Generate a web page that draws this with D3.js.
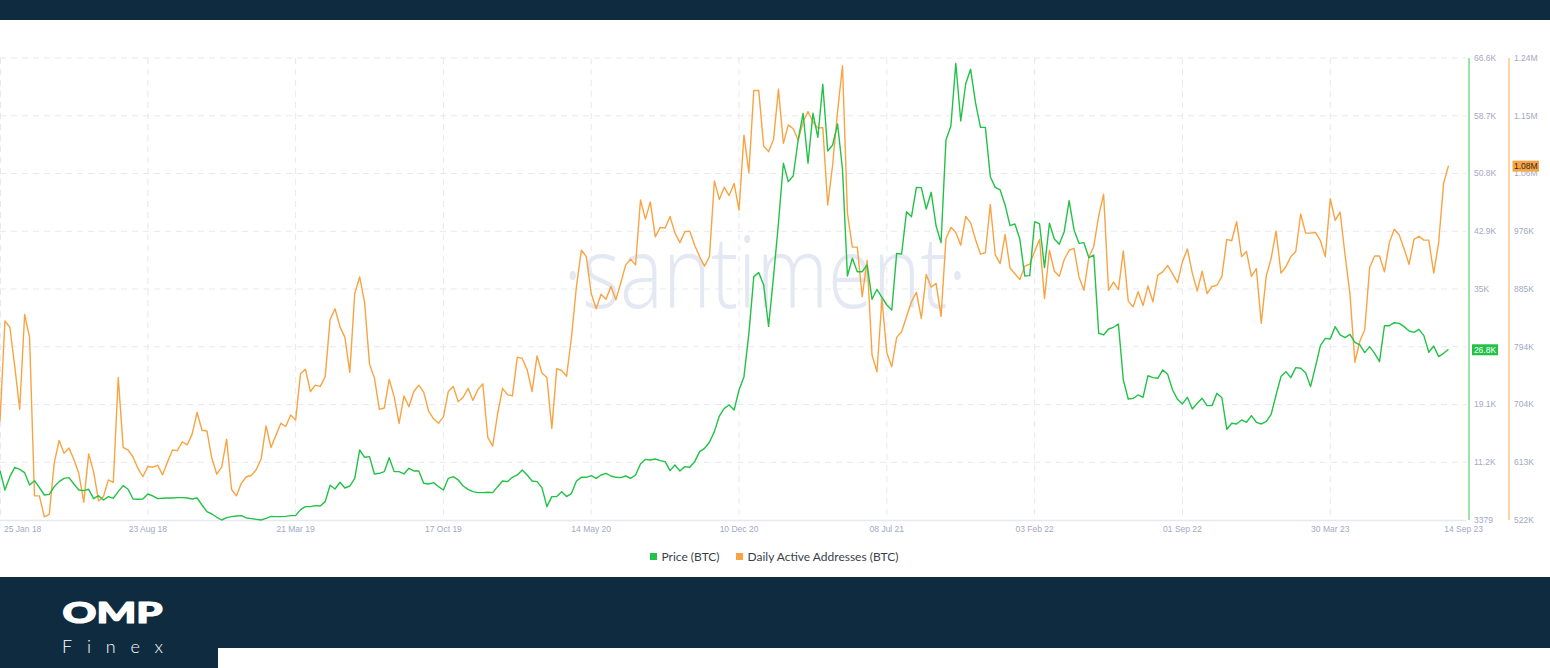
<!DOCTYPE html>
<html><head><meta charset="utf-8">
<script src="https://cdn.jsdelivr.net/npm/d3@7"></script>
<style>
html,body{margin:0;padding:0;background:#fff;overflow:hidden;}
svg{display:block;}
</style></head>
<body>
<svg id="c" width="1550" height="668"></svg>
<script>
// ---------- data ----------
const startDate = "2018-01-25";          // first weekly sample
const lastDate = "2023-09-14";           // last weekly sample
// BTC price, thousands USD (weekly)
const priceK = [
10.13,7.49,9.31,10.59,10.31,9.86,8.17,8.76,7.81,6.80,
6.89,7.94,8.63,9.08,9.17,8.31,7.49,7.40,7.58,6.30,
6.71,6.12,6.58,6.35,7.26,8.08,7.58,6.26,6.21,6.26,
6.94,6.67,6.30,6.35,6.39,6.39,6.44,6.44,6.39,6.26,
6.39,5.43,4.52,4.20,3.75,3.38,3.70,3.84,3.93,3.98,
3.66,3.57,3.47,3.38,3.61,3.88,3.84,3.84,3.88,3.98,
3.98,4.80,5.21,5.21,5.34,5.30,5.89,8.13,7.62,8.54,
7.76,8.03,9.08,12.96,11.96,12.05,9.68,9.77,10.00,11.91,
10.00,10.00,9.68,10.45,10.09,10.09,8.40,8.31,8.49,7.94,
7.49,9.08,9.31,8.86,8.03,7.58,7.26,7.12,7.12,7.17,
7.12,7.94,8.72,8.63,9.22,9.54,10.22,9.54,8.72,8.63,
7.81,5.21,6.58,6.58,7.26,6.58,7.03,8.72,9.22,9.22,
9.45,9.08,9.54,9.77,9.40,9.22,9.18,9.40,9.08,9.54,
11.04,11.68,11.59,11.73,11.50,11.36,10.13,10.91,10.09,10.68,
10.59,11.36,12.73,13.19,14.01,15.47,17.61,18.66,19.12,18.43,
21.17,22.99,28.92,36.68,37.23,35.54,29.88,36.68,43.98,52.19,
49.68,50.45,55.38,59.03,52.19,59.03,55.74,63.00,53.87,54.70,
57.57,51.37,36.77,39.19,37.36,37.36,38.28,33.58,34.95,33.85,
32.80,32.12,39.87,39.78,45.57,44.89,48.90,48.86,45.94,48.22,
43.61,41.33,55.38,57.30,65.87,57.98,63.04,65.05,60.49,57.11,
57.11,50.36,48.90,48.54,46.49,43.66,43.89,41.79,36.77,36.82,
44.21,43.89,37.91,43.98,41.83,41.10,42.84,47.08,43.07,41.24,
41.33,39.28,39.64,28.93,28.70,29.52,29.75,30.20,22.54,19.94,
20.03,20.49,20.17,23.13,22.86,22.77,23.91,23.31,21.17,19.89,
19.26,20.17,18.57,19.35,20.03,19.03,19.03,20.72,20.12,15.79,
16.61,16.52,17.07,16.75,17.66,16.75,16.52,16.84,17.84,20.49,
23.00,23.68,22.86,24.23,24.14,23.54,21.63,24.36,27.24,28.24,
28.15,29.84,28.70,28.33,28.79,27.69,27.33,26.28,27.10,26.19,
25.05,29.97,29.97,30.38,30.29,29.84,29.24,29.06,29.47,28.61,
26.33,27.19,25.73,26.19,26.74
];
// Daily active addresses, thousands (weekly)
const daaK = [
677,835,825,763,696,845,809,560,560,527,
531,611,647,627,635,617,595,550,626,598,
552,559,585,581,746,636,632,621,603,590,
606,605,608,593,613,632,631,645,640,657,
691,663,662,619,594,605,649,570,560,580,
590,592,601,618,670,636,655,674,669,687,
679,752,759,724,734,732,747,837,854,826,
809,754,878,904,864,767,745,696,698,743,
716,674,717,700,724,734,723,693,681,674,
684,724,732,708,715,729,710,727,736,652,
638,689,729,719,717,778,776,758,724,780,
753,746,666,760,757,748,810,889,946,936,
878,854,877,869,889,868,895,923,932,923,
1025,995,1022,967,982,981,999,973,958,975,
976,954,936,921,936,1055,1026,1045,1032,1051,
1009,1127,1068,1197,1197,1110,1101,1120,1199,1114,
1143,1137,1119,1148,1164,1148,1138,1139,1017,1080,
1164,1236,1004,951,951,873,930,781,755,869,
785,763,809,818,842,865,880,839,908,888,
894,842,964,982,974,954,999,989,963,940,
942,1018,939,925,971,918,909,900,921,924,
944,963,870,946,913,905,931,946,949,904,
883,935,952,1000,1034,883,896,884,945,866,
857,881,859,890,865,907,912,922,909,895,
928,948,910,882,913,878,889,891,905,963,
961,991,936,944,905,917,831,905,933,976,
910,920,936,944,1003,973,973,974,961,936,
1027,993,1006,939,877,770,803,821,919,937,
937,912,958,979,970,948,924,963,968,962,
962,910,958,1051,1079
];
const xTickDates = ["2018-01-25","2018-08-23","2019-03-21","2019-10-17","2020-05-14","2020-12-10","2021-07-08","2022-02-03","2022-09-01","2023-03-30","2023-09-14"];
const xTickLabels = ["25 Jan 18","23 Aug 18","21 Mar 19","17 Oct 19","14 May 20","10 Dec 20","08 Jul 21","03 Feb 22","01 Sep 22","30 Mar 23","14 Sep 23"];
const priceTickLabels = ["3379","11.2K","19.1K","27K","35K","42.9K","50.8K","58.7K","66.6K"];
const daaTickLabels = ["522K","613K","704K","794K","885K","976K","1.06M","1.15M","1.24M"];
const priceDomainK = [3.379, 66.6];
const daaDomainK = [522, 1248.2];
const seriesNames = ["Price (BTC)", "Daily Active Addresses (BTC)"];
const lastLabels = ["26.8K", "1.08M"];

// ---------- drawing ----------
const W = 1550, H = 668;
const GREEN = "#22c247", ORANGE = "#f9a443", NAVY = "#0f2b40";
const svg = d3.select("#c");
const parse = d3.timeParse("%Y-%m-%d");
const t0 = parse(startDate), t1 = parse(lastDate);
const dates = priceK.map((_, i) => d3.timeDay.offset(t0, 7 * i));

const plotL = 0, plotR = 1466, plotT = 58, plotB = 520;
const x = d3.scaleTime().domain([t0, t1]).range([0, 1448.5]);
const yP = d3.scaleLinear().domain(priceDomainK).range([plotB, plotT]);
const yD = d3.scaleLinear().domain(daaDomainK).range([plotB, plotT]);

svg.append("rect").attr("width", W).attr("height", H).attr("fill", "#fff");

// top bar
svg.append("rect").attr("x", 0).attr("y", 0).attr("width", W).attr("height", 20).attr("fill", NAVY);

const grid = svg.append("g");
const pTicks = priceTickLabels.map((_, i) => priceDomainK[0] + i * (priceDomainK[1] - priceDomainK[0]) / (priceTickLabels.length - 1));
const dTicks = daaTickLabels.map((_, i) => daaDomainK[0] + i * (daaDomainK[1] - daaDomainK[0]) / (daaTickLabels.length - 1));
const GRID = "#e6e8f3";

// horizontal gridlines
grid.selectAll("line.h").data(pTicks.slice(1)).join("line")
  .attr("x1", plotL).attr("x2", plotR)
  .attr("y1", d => yP(d)).attr("y2", d => yP(d))
  .attr("stroke", GRID).attr("stroke-width", 1).attr("stroke-dasharray", "6,5");
// vertical gridlines
const xt = xTickDates.map(parse);
grid.selectAll("line.v").data(xt.slice(0, -1)).join("line")
  .attr("x1", d => Math.max(0.5, x(d))).attr("x2", d => Math.max(0.5, x(d)))
  .attr("y1", plotT).attr("y2", plotB)
  .attr("stroke", GRID).attr("stroke-width", 1).attr("stroke-dasharray", "6,5");
// x baseline
svg.append("line").attr("x1", 0).attr("x2", plotR).attr("y1", plotB + 0.5).attr("y2", plotB + 0.5)
  .attr("stroke", "#e6e8f2").attr("stroke-width", 1.5);

// watermark
svg.append("text").attr("x", 563).attr("y", 308)
  .attr("textLength", 404).attr("lengthAdjust", "spacingAndGlyphs")
  .attr("font-family", "'Open Sans', sans-serif").attr("font-weight", 300)
  .attr("font-size", 100).attr("fill", "#e4e8f2").text("·santiment·");

// lines
const lineP = d3.line().x((d, i) => x(dates[i])).y(d => yP(d));
const lineD = d3.line().x((d, i) => x(dates[i])).y(d => yD(d));
svg.append("path").datum(daaK).attr("d", lineD).attr("fill", "none")
  .attr("stroke", ORANGE).attr("stroke-width", 1.4).attr("stroke-linejoin", "round");
svg.append("path").datum(priceK).attr("d", lineP).attr("fill", "none")
  .attr("stroke", GREEN).attr("stroke-width", 1.4).attr("stroke-linejoin", "round");

// right axes lines
svg.append("line").attr("x1", 1469).attr("x2", 1469).attr("y1", plotT).attr("y2", plotB)
  .attr("stroke", GREEN).attr("stroke-opacity", 0.75).attr("stroke-width", 1.2);
svg.append("line").attr("x1", 1509).attr("x2", 1509).attr("y1", plotT).attr("y2", plotB)
  .attr("stroke", ORANGE).attr("stroke-opacity", 0.75).attr("stroke-width", 1.2);

const lastP = priceK[priceK.length - 1], lastD = daaK[daaK.length - 1];
const tickFont = "'Liberation Sans', Arial, sans-serif";
const tickColor = "#a2a9c2";
// price tick labels (the one hidden under the last-value badge is not drawn)
svg.append("g").selectAll("text").data(pTicks.filter(d => Math.abs(yP(d) - yP(lastP)) > 6)).join("text")
  .attr("x", 1474).attr("y", d => yP(d)).attr("dy", "0.35em")
  .attr("font-family", tickFont).attr("font-size", 8.5).attr("fill", tickColor)
  .text(d => priceTickLabels[pTicks.indexOf(d)]);
svg.append("g").selectAll("text").data(dTicks).join("text")
  .attr("x", 1514).attr("y", d => yD(d)).attr("dy", "0.35em")
  .attr("font-family", tickFont).attr("font-size", 8.5).attr("fill", tickColor)
  .text((d, i) => daaTickLabels[i]);

// x tick labels
svg.append("g").selectAll("text").data(xt).join("text")
  .attr("x", (d, i) => i === 0 ? 4 : (i === xt.length - 1 ? 1483 : x(d)))
  .attr("y", 532)
  .attr("text-anchor", (d, i) => i === 0 ? "start" : (i === xt.length - 1 ? "end" : "middle"))
  .attr("font-family", tickFont).attr("font-size", 8.5).attr("fill", tickColor)
  .text((d, i) => xTickLabels[i]);

// last value badges
const gb = svg.append("g");
gb.append("rect").attr("x", 1472).attr("y", yP(lastP) - 5).attr("width", 26).attr("height", 11).attr("fill", GREEN);
gb.append("text").attr("x", 1485).attr("y", yP(lastP) + 0.5).attr("dy", "0.35em").attr("text-anchor", "middle")
  .attr("font-family", tickFont).attr("font-size", 8.5).attr("fill", "#fff").text(lastLabels[0]);
gb.append("rect").attr("x", 1512.5).attr("y", yD(lastD) - 5).attr("width", 26.5).attr("height", 11).attr("fill", ORANGE);
gb.append("text").attr("x", 1525.8).attr("y", yD(lastD) + 0.5).attr("dy", "0.35em").attr("text-anchor", "middle")
  .attr("font-family", tickFont).attr("font-size", 8.5).attr("fill", "#2a2a2a").text(lastLabels[1]);

// legend
const leg = svg.append("g").attr("font-family", "Lato, sans-serif").attr("font-size", 12).attr("fill", "#3b3f4c");
const legItems = [{x: 650, c: GREEN, t: seriesNames[0]}, {x: 736, c: ORANGE, t: seriesNames[1]}];
legItems.forEach(it => {
  leg.append("rect").attr("x", it.x).attr("y", 553).attr("width", 7).attr("height", 7).attr("fill", it.c);
  leg.append("text").attr("x", it.x + 11.5).attr("y", 556.8).attr("dy", "0.35em").text(it.t);
});

// bottom bar with logo
svg.append("rect").attr("x", 0).attr("y", 577).attr("width", W).attr("height", H - 577).attr("fill", NAVY);
svg.append("rect").attr("x", 218).attr("y", 648).attr("width", W - 218).attr("height", H - 648).attr("fill", "#fff");
svg.append("text").attr("x", 62.5).attr("y", 623.3)
  .attr("textLength", 100).attr("lengthAdjust", "spacingAndGlyphs")
  .attr("font-family", "Lato, sans-serif").attr("font-weight", 900).attr("font-size", 29)
  .attr("fill", "#fff").attr("stroke", "#fff").attr("stroke-width", 1.2).attr("stroke-linejoin", "round")
  .text("OMP");
svg.append("text").attr("x", 62).attr("y", 653.3)
  .attr("textLength", 101).attr("lengthAdjust", "spacing")
  .attr("font-family", "Lato, sans-serif").attr("font-weight", 300).attr("font-size", 18)
  .attr("fill", "#fff").text("Finex");
</script>
</body></html>
